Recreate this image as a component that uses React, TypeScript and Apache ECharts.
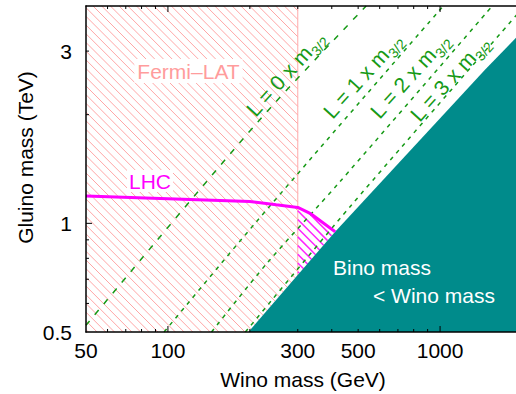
import React, { useEffect, useRef } from 'react';
import * as echarts from 'echarts';

// ---- axis ranges ----
const xMin = 50;
const xMax = 2000;
const yMin = 0.5;
const yMax = 4;

// ---- ticks & labels ----
const xMajorTicks = [100, 1000];
const xMinorTicks = [60, 70, 80, 90, 200, 300, 400, 500, 600, 700, 800, 900];
const yMajorTicks = [1];
const yMinorTicks = [0.6, 0.7, 0.8, 0.9, 2, 3];
const xTickLabels = [50, 100, 300, 500, 1000];
const yTickLabels = [0.5, 1, 3];

// ---- Fermi-LAT excluded region (Wino mass < 300 GeV) ----
const fermiWinoMax = 300;
const fermiRegion = [[50, 0.5], [300, 0.5], [300, 4], [50, 4]];

// ---- LHC bound ----
const lhcWino = [50, 100, 200, 250, 300, 333, 411.6];
const lhcGluino = [1.19, 1.17, 1.15, 1.126, 1.107, 1.066, 0.948];
const lhcRegion = [[300, 1.107], [333, 1.066], [411.6, 0.948], [300, 0.716]];

// ---- Bino mass = Wino mass boundary ----
const binoBoundWino = [197.6, 411.6, 1465, 2000];
const binoBoundGluino = [0.5, 0.948, 2.666, 3.4];

// ---- L = n x m3/2 contours ----
const lineL0 = [[50, 0.522], [214, 1.91], [535, 4.0]];
const lineL1 = [[96.8, 0.5], [209, 1.0], [1027, 4.0]];
const lineL2 = [[144.6, 0.5], [230.8, 0.774], [429, 1.305], [1555, 4.0]];
const lineL3 = [[192.6, 0.5], [467, 1.112], [2000, 3.93]];
const lineMultipliers = ['0', '1', '2', '3'];

const FAMILY = '"Liberation Sans", Arial, Helvetica, sans-serif';
const FONT = `21px ${FAMILY}`;
const GREEN = '#169a16';

function hatchLines(poly: number[][], spacing: number, color: string, width: number) {
  const xs = poly.map((p) => p[0]);
  const ys = poly.map((p) => p[1]);
  const cMin = Math.min(...ys) - Math.max(...xs);
  const cMax = Math.max(...ys) - Math.min(...xs);
  const out: any[] = [];
  for (let c = Math.ceil(cMin / spacing) * spacing; c <= cMax; c += spacing) {
    const ts: number[] = [];
    for (let i = 0; i < poly.length; i++) {
      const a = poly[i];
      const b = poly[(i + 1) % poly.length];
      const dx = b[0] - a[0];
      const dy = b[1] - a[1];
      const den = dx - dy;
      if (Math.abs(den) < 1e-9) continue;
      const s = (a[1] - a[0] - c) / den;
      if (s >= 0 && s < 1) ts.push(a[0] + s * dx);
    }
    ts.sort((p, q) => p - q);
    for (let k = 0; k + 1 < ts.length; k += 2) {
      out.push({
        type: 'line',
        shape: { x1: ts[k], y1: ts[k] + c, x2: ts[k + 1], y2: ts[k + 1] + c },
        style: { stroke: color, lineWidth: width },
      });
    }
  }
  return out;
}

function textStyle(text: string, fill: string, align: string, vAlign: string, extra: any = {}) {
  return {
    text,
    font: FONT,
    fill,
    textAlign: align,
    textVerticalAlign: vAlign,
    align,
    verticalAlign: vAlign,
    ...extra,
  };
}

function buildOption(): any {
  const axisLine = { show: true, onZero: false, lineStyle: { color: '#000', width: 1.5 } };
  const hidden = {
    axisTick: { show: false },
    axisLabel: { show: false },
    splitLine: { show: false },
  };

  const xTickData = [...xMajorTicks.map((v) => [v, yMin, 1]), ...xMinorTicks.map((v) => [v, yMin, 0])];
  const yTickData = [...yMajorTicks.map((v) => [xMin, v, 1]), ...yMinorTicks.map((v) => [xMin, v, 0])];

  const greenLines = [lineL0, lineL1, lineL2, lineL3].map((pts, i) => ({
    type: 'line',
    name: `L = ${lineMultipliers[i]} x m3/2`,
    data: pts,
    showSymbol: false,
    symbol: 'none',
    smooth: 0.3,
    silent: true,
    z: 3,
    lineStyle: { color: GREEN, width: 1.5, type: i === 0 ? [6, 8] : [4, 5] },
  }));

  const labelCenters = [
    [287, 75],
    [364, 77],
    [411, 77],
    [451, 80],
  ];
  const angle = (48 * Math.PI) / 180;

  return {
    animation: false,
    textStyle: { fontFamily: FAMILY },
    grid: { left: 86, top: 6, right: -6, bottom: 62, containLabel: false, outerBoundsMode: 'none' },
    xAxis: [
      { type: 'log', logBase: 10, min: xMin, max: xMax, position: 'bottom', axisLine, z: 10, ...hidden },
      { type: 'log', logBase: 10, min: xMin, max: xMax, position: 'top', axisLine, z: 10, ...hidden },
    ],
    yAxis: [{ type: 'log', logBase: 10, min: yMin, max: yMax, position: 'left', axisLine, z: 10, ...hidden }],
    series: [
      // Fermi-LAT hatched region
      {
        type: 'custom',
        clip: false,
        silent: true,
        z: 1,
        data: [[xMin, yMin]],
        renderItem: (params: any, api: any) => {
          const px = fermiRegion.map((p) => api.coord(p));
          const top = api.coord([fermiWinoMax, yMax]);
          const bot = api.coord([fermiWinoMax, yMin]);
          return {
            type: 'group',
            children: [
              ...hatchLines(px, 8.7, '#ffa6a6', 1),
              {
                type: 'line',
                shape: { x1: top[0], y1: top[1], x2: bot[0], y2: bot[1] },
                style: { stroke: '#ffaaaa', lineWidth: 1 },
              },
            ],
          };
        },
      },
      // LHC hatched region outside Fermi
      {
        type: 'custom',
        clip: false,
        silent: true,
        z: 2,
        data: [[xMin, yMin]],
        renderItem: (params: any, api: any) => {
          const px = lhcRegion.map((p) => api.coord(p));
          return { type: 'group', children: hatchLines(px, 8.7, '#ff22ff', 1.5) };
        },
      },
      ...greenLines,
      // Bino < Wino region
      {
        type: 'custom',
        clip: false,
        silent: true,
        z: 4,
        data: [[xMin, yMin]],
        renderItem: (params: any, api: any) => {
          const pts = binoBoundWino.map((x, i) => api.coord([x, binoBoundGluino[i]]));
          pts.push(api.coord([binoBoundWino[binoBoundWino.length - 1], yMin]));
          return { type: 'polygon', shape: { points: pts }, style: { fill: '#008b8b' } };
        },
      },
      // LHC line
      {
        type: 'line',
        name: 'LHC',
        data: lhcWino.map((x, i) => [x, lhcGluino[i]]),
        showSymbol: false,
        symbol: 'none',
        silent: true,
        z: 5,
        lineStyle: { color: '#ff00ff', width: 3 },
      },
      // x ticks (bottom & top, inward)
      {
        type: 'custom',
        clip: false,
        silent: true,
        z: 11,
        encode: { x: 0, y: 1 },
        data: xTickData,
        renderItem: (params: any, api: any) => {
          const v = api.value(0);
          const len = api.value(2) ? 6 : 3;
          const b = api.coord([v, yMin]);
          const t = api.coord([v, yMax]);
          return {
            type: 'group',
            children: [
              { type: 'line', shape: { x1: b[0], y1: b[1], x2: b[0], y2: b[1] - len }, style: { stroke: '#000', lineWidth: 1 } },
              { type: 'line', shape: { x1: t[0], y1: t[1], x2: t[0], y2: t[1] + len }, style: { stroke: '#000', lineWidth: 1 } },
            ],
          };
        },
      },
      // y ticks (left, inward)
      {
        type: 'custom',
        clip: false,
        silent: true,
        z: 11,
        encode: { x: 0, y: 1 },
        data: yTickData,
        renderItem: (params: any, api: any) => {
          const v = api.value(1);
          const len = api.value(2) ? 6 : 3;
          const l = api.coord([xMin, v]);
          return { type: 'line', shape: { x1: l[0], y1: l[1], x2: l[0] + len, y2: l[1] }, style: { stroke: '#000', lineWidth: 1 } };
        },
      },
      // x tick labels
      {
        type: 'custom',
        clip: false,
        silent: true,
        z: 11,
        encode: { x: 0, y: 1 },
        data: xTickLabels.map((v) => [v, yMin]),
        renderItem: (params: any, api: any) => {
          const v = api.value(0);
          const p = api.coord([v, yMin]);
          return { type: 'text', x: p[0], y: p[1] + 18.5, style: textStyle(String(v), '#000', 'center', 'middle') };
        },
      },
      // y tick labels
      {
        type: 'custom',
        clip: false,
        silent: true,
        z: 11,
        encode: { x: 0, y: 1 },
        data: yTickLabels.map((v) => [xMin, v]),
        renderItem: (params: any, api: any) => {
          const v = api.value(1);
          const p = api.coord([xMin, v]);
          return { type: 'text', x: p[0] - 14, y: p[1], style: textStyle(String(v), '#000', 'right', 'middle') };
        },
      },
    ],
    graphic: [
      { type: 'text', x: 303, y: 379, z: 100, style: textStyle('Wino mass (GeV)', '#000', 'center', 'middle') },
      { type: 'text', x: 25.5, y: 157.5, rotation: Math.PI / 2, z: 100, style: textStyle('Gluino mass (TeV)', '#000', 'center', 'middle') },
      {
        type: 'text', x: 188.5, y: 71, z: 100,
        style: textStyle('Fermi–LAT', '#ff9c9c', 'center', 'middle', { backgroundColor: '#fff', padding: [2, 3, 1, 3] }),
      },
      {
        type: 'text', x: 150, y: 181, z: 100,
        style: textStyle('LHC', '#ff00ff', 'center', 'middle', { backgroundColor: '#fff', padding: [1, 2, 0, 2] }),
      },
      { type: 'text', x: 333, y: 267.5, z: 100, style: textStyle('Bino mass', '#fff', 'left', 'middle') },
      { type: 'text', x: 373, y: 295.5, z: 100, style: textStyle('< Wino mass', '#fff', 'left', 'middle') },
      ...lineMultipliers.map((m, i) => ({
        type: 'text',
        x: labelCenters[i][0],
        y: labelCenters[i][1],
        rotation: angle,
        z: 100,
        style: {
          text: `{n|L = ${m} x m}{s|3/2}`,
          textAlign: 'center',
          textVerticalAlign: 'middle',
          align: 'center',
          verticalAlign: 'middle',
          fill: GREEN,
          font: FONT,
          rich: {
            n: { fontSize: 21, fontFamily: FAMILY, fill: GREEN, color: GREEN, padding: [0, 0, 4, 0] },
            s: { fontSize: 14, fontFamily: FAMILY, fill: GREEN, color: GREEN, verticalAlign: 'bottom' },
          },
        },
      })),
    ],
  };
}

export default function App() {
  const ref = useRef<HTMLDivElement>(null);
  useEffect(() => {
    document.body.style.margin = '0';
    const chart = echarts.init(ref.current as HTMLDivElement, null, { renderer: 'svg' });
    chart.setOption(buildOption());
    return () => chart.dispose();
  }, []);
  return (
    <div
      ref={ref}
      style={{ position: 'absolute', left: 0, top: 0, width: 516, height: 394, background: '#fff' }}
    />
  );
}
